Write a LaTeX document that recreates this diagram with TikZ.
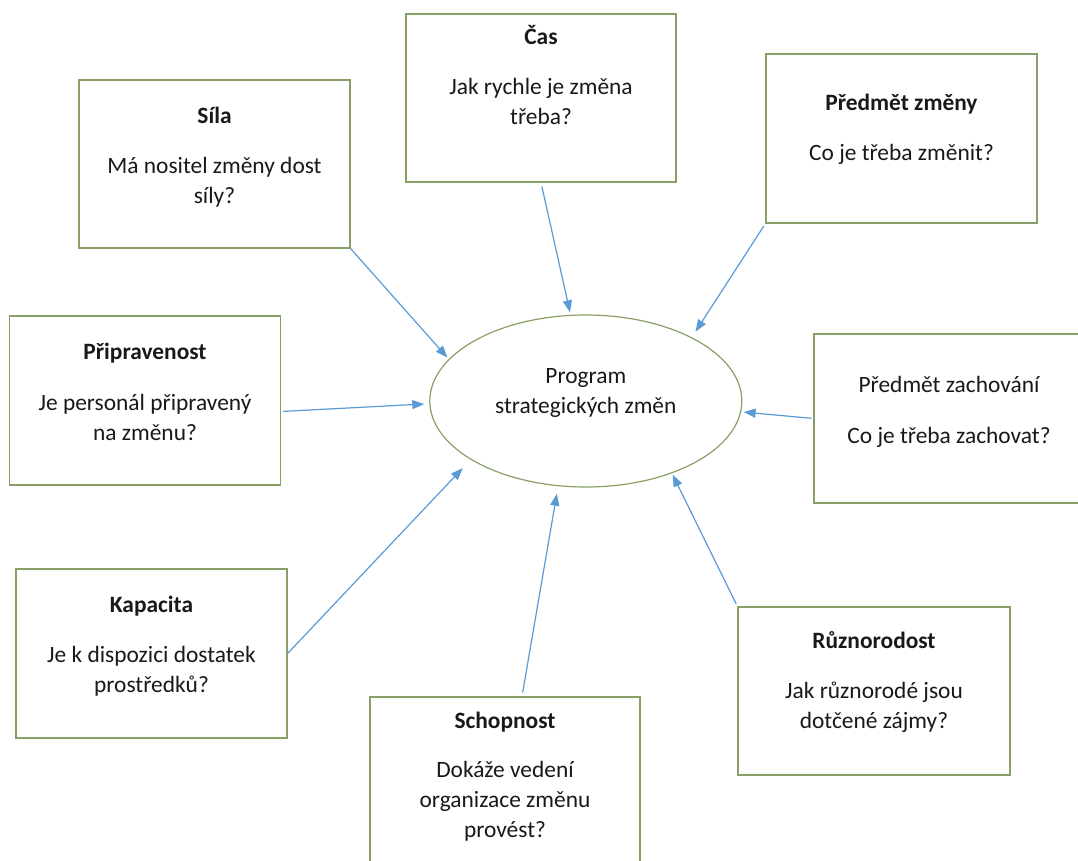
\documentclass[tikz,border=0pt]{standalone}
\usepackage{fontspec}
\setmainfont{Carlito}
\usetikzlibrary{arrows.meta,shapes.geometric}
\definecolor{boxgreen}{RGB}{136,160,104}
\definecolor{arrowblue}{RGB}{91,155,213}
\definecolor{txt}{RGB}{25,25,25}
\newcommand{\firstln}{\rule{0pt}{24bp}}
\begin{document}
\begin{tikzpicture}[x=1bp,y=-1bp,
  box/.style={draw=boxgreen, line width=1.2bp, rectangle, inner sep=0pt},
  txtnode/.style={anchor=north, inner sep=0pt, align=center, text=txt, font=\fontsize{23.4bp}{30bp}\selectfont},
  arr/.style={draw=arrowblue, line width=1.2bp, -{Triangle[length=12bp,width=9bp]}}]
\useasboundingbox (0,0) rectangle (1078,861);
\clip (0,0) rectangle (1078,861);
\fill[white] (0,0) rectangle (1078,861);

% boxes
\node[box, minimum width=271bp, minimum height=168bp] (sila) at (214.5,164) {};
\node[box, minimum width=270bp, minimum height=168bp] (cas) at (541,98) {};
\node[box, minimum width=271bp, minimum height=169bp] (pri) at (145,400.5) {};
\node[box, minimum width=271bp, minimum height=169bp] (pzm) at (901.5,138.5) {};
\node[box, minimum width=270bp, minimum height=169bp] (pza) at (949,418.5) {};
\node[box, minimum width=271bp, minimum height=169bp] (kap) at (151.5,653.5) {};
\node[box, minimum width=270bp, minimum height=169bp] (sch) at (505,781.5) {};
\node[box, minimum width=272bp, minimum height=168bp] (ruz) at (874,691) {};
\node[box, ellipse, minimum width=312bp, minimum height=172bp] (ell) at (585.8,401) {};

% texts
\node[txtnode] (tsila) at (214.5,99) {\firstln\textbf{Síla}\\[20bp]Má nositel změny dost\\síly?};
\node[txtnode] (tcas) at (541,20) {\firstln\textbf{Čas}\\[20bp]Jak rychle je změna\\třeba?};
\node[txtnode] (tpri) at (145,335) {\firstln\textbf{Připravenost}\\[21bp]Je personál připravený\\na změnu?};
\node[txtnode] (tpzm) at (901.5,86) {\firstln\textbf{Předmět změny}\\[20bp]Co je třeba změnit?};
\node[txtnode] (tpza) at (949,368) {\firstln Předmět zachování\\[21bp]Co je třeba zachovat?};
\node[txtnode] (tkap) at (151.5,588) {\firstln\textbf{Kapacita}\\[20bp]Je k dispozici dostatek\\prostředků?};
\node[txtnode] (tsch) at (505,704) {\firstln\textbf{Schopnost}\\[19bp]Dokáže vedení\\organizace změnu\\provést?};
\node[txtnode] (truz) at (874,624) {\firstln\textbf{Různorodost}\\[20bp]Jak různorodé jsou\\dotčené zájmy?};
\node[txtnode] (tell) at (585.8,359) {\firstln Program\\strategických změn};

% connectors
\draw[arr, shorten >=2bp] (sila.south east) -- (ell.163.6);
\draw[arr, shorten <=2bp, shorten >=5bp] ([yshift=-11bp]pri.east) -- (ell.181.8);
\draw[arr, shorten <=4bp, shorten >=2.5bp] (cas.south) -- (ell.100.8);
\draw[arr, shorten <=3bp, shorten >=6.7bp] (pzm.south west) -- (ell.31.9);
\draw[arr, shorten <=2bp, shorten >=2.5bp] (pza.west) -- (ell.-4);
\draw[arr, shorten <=3bp, shorten >=1.5bp] (ruz.north west) -- (ell.-40.3);
\draw[arr, shorten <=4bp, shorten >=7.6bp] ([xshift=17bp]sch.north) -- (ell.252.6);
\draw[arr, shorten >=11.6bp] (kap.east) -- (ell.207.9);
\end{tikzpicture}
\end{document}
